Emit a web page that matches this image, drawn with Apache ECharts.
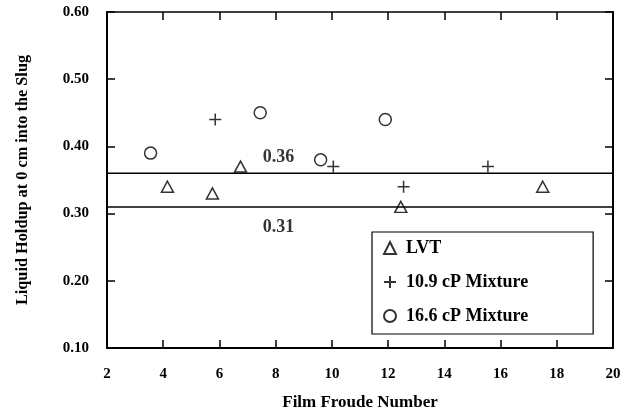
<!DOCTYPE html>
<html>
<head>
<meta charset="utf-8">
<script src="https://cdn.jsdelivr.net/npm/echarts@6/dist/echarts.min.js"></script>
<style>
  html, body { margin: 0; padding: 0; background: #fff; }
  #chart { width: 621px; height: 412px; }
</style>
</head>
<body>
<div id="chart"></div>
<script>
// Film Froude number vs. liquid holdup at 0 cm into the slug
const seriesNames = ['LVT', '10.9 cP Mixture', '16.6 cP Mixture'];

const lvtX = [4.15, 5.75, 6.75, 12.45, 17.5];
const lvtY = [0.34, 0.33, 0.37, 0.31, 0.34];

const mix109X = [5.85, 10.05, 12.55, 15.55];
const mix109Y = [0.44, 0.37, 0.34, 0.37];

const mix166X = [3.55, 7.45, 9.6, 11.9];
const mix166Y = [0.39, 0.45, 0.38, 0.44];

// Reference holdup levels and the x where their labels sit
const refLevels = [0.36, 0.31];
const refLabelX = 8.1;

const xTicks = [2, 4, 6, 8, 10, 12, 14, 16, 18, 20];
const yTicks = [0.10, 0.20, 0.30, 0.40, 0.50, 0.60];

const FONT = '"Liberation Serif", "Times New Roman", serif';
const plusPath = 'path://M5,0L5,10M0,5L10,5';

const zip = (xs, ys) => xs.map((x, i) => [x, ys[i]]);

const markerStyle = { color: 'rgba(0,0,0,0)', borderColor: '#000', borderWidth: 1.5 };

const chart = echarts.init(document.getElementById('chart'), null, { renderer: 'canvas' });

const tickLabel = { color: '#000', fontFamily: FONT, fontWeight: 'bold', fontSize: 15 };

chart.setOption({
  animation: false,
  backgroundColor: '#fff',
  grid: { left: 107, right: 8, top: 12, bottom: 64, outerBoundsMode: 'none' },
  legend: {
    orient: 'vertical',
    left: 372,
    top: 232,
    padding: [7, 65, 9, 11],
    itemGap: 16,
    itemWidth: 12,
    itemHeight: 12,
    borderColor: '#000',
    borderWidth: 1.2,
    backgroundColor: '#fff',
    data: [
      { name: seriesNames[0], icon: 'triangle' },
      { name: seriesNames[1], icon: plusPath },
      { name: seriesNames[2], icon: 'circle' }
    ],
    textStyle: { color: '#000', fontFamily: FONT, fontWeight: 'bold', fontSize: 18, lineHeight: 18, padding: [0, 0, 0, 5] }
  },
  xAxis: [
    {
      type: 'value', min: 2, max: 20, interval: 2,
      name: 'Film Froude Number', nameLocation: 'middle', nameGap: 46,
      nameTextStyle: { color: '#000', fontFamily: FONT, fontWeight: 'bold', fontSize: 17 },
      axisLine: { lineStyle: { color: '#000', width: 2 } },
      axisTick: { inside: true, length: 8, lineStyle: { color: '#000', width: 1.5 } },
      axisLabel: Object.assign({ margin: 19, formatter: v => xTicks.includes(v) ? String(v) : '' }, tickLabel),
      splitLine: { show: false }
    },
    {
      type: 'value', position: 'top', min: 2, max: 20, interval: 2,
      axisLine: { lineStyle: { color: '#000', width: 1.5 } },
      axisTick: { inside: true, length: 8, lineStyle: { color: '#000', width: 1.5 } },
      axisLabel: { show: false },
      splitLine: { show: false }
    }
  ],
  yAxis: [
    {
      type: 'value', min: 0.1, max: 0.6, interval: 0.1,
      name: 'Liquid Holdup at 0 cm into the Slug', nameLocation: 'middle', nameGap: 76,
      nameTextStyle: { color: '#000', fontFamily: FONT, fontWeight: 'bold', fontSize: 16.3 },
      axisLine: { lineStyle: { color: '#000', width: 2 } },
      axisTick: { inside: true, length: 8, lineStyle: { color: '#000', width: 1.5 } },
      axisLabel: Object.assign({ margin: 18, formatter: v => yTicks.some(t => Math.abs(t - v) < 1e-9) ? v.toFixed(2) : '' }, tickLabel),
      splitLine: { show: false }
    },
    {
      type: 'value', position: 'right', min: 0.1, max: 0.6, interval: 0.1,
      axisLine: { lineStyle: { color: '#000', width: 2 } },
      axisTick: { inside: true, length: 8, lineStyle: { color: '#000', width: 1.5 } },
      axisLabel: { show: false },
      splitLine: { show: false }
    }
  ],
  series: [
    // horizontal reference levels
    ...refLevels.map(level => ({
      type: 'line',
      data: [[2, level], [20, level]],
      symbol: 'none',
      silent: true,
      lineStyle: { color: '#000', width: 1.5 },
      z: 1
    })),
    // level labels
    {
      type: 'scatter',
      data: refLevels.map((level, i) => ({
        value: [refLabelX, level],
        label: {
          show: true,
          formatter: level.toFixed(2),
          position: 'inside',
          offset: i === 0 ? [0, -16] : [0, 20],
          color: '#000', fontFamily: FONT, fontWeight: 'bold', fontSize: 18
        }
      })),
      symbolSize: 0,
      silent: true
    },
    {
      name: seriesNames[0], type: 'scatter', data: zip(lvtX, lvtY),
      symbol: 'triangle', symbolSize: [12, 11], itemStyle: markerStyle, z: 3
    },
    {
      name: seriesNames[1], type: 'scatter', data: zip(mix109X, mix109Y),
      symbol: plusPath, symbolSize: 12, itemStyle: markerStyle, z: 3
    },
    {
      name: seriesNames[2], type: 'scatter', data: zip(mix166X, mix166Y),
      symbol: 'circle', symbolSize: 12, itemStyle: markerStyle, z: 3
    }
  ]
});
</script>
</body>
</html>
